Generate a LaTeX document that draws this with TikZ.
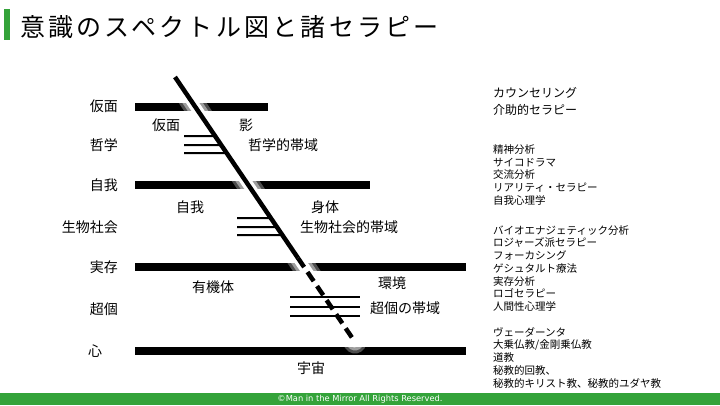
\documentclass[tikz,border=0pt]{standalone}
\usepackage{fontspec}
\setmainfont{Noto Sans CJK JP}
\newfontfamily\titlefont[LetterSpace=13]{Noto Sans CJK JP}
\newfontfamily\footfont{DejaVu Sans}
\usepackage{tikz}
\usetikzlibrary{calc}

\definecolor{slideGreen}{RGB}{52,163,58}

\begin{document}
\begin{tikzpicture}[
    x=1pt, y=-1pt,
    lbl/.style={font=\fontsize{14}{14}\selectfont, inner sep=0pt},
    lst/.style={font=\fontsize{10.5}{12.75}\selectfont, align=left, anchor=west, inner sep=0pt},
    bar/.style={line width=7.5pt},
    band/.style={line width=2pt},
    halo/.style={white, line cap=round},
    spine/.style={line width=4.5pt}
]
\useasboundingbox (0,0) rectangle (720,405);

% ==================== TITLE & FOOTER ====================
\fill[slideGreen] (4,9) rectangle (10,40);
\node[anchor=west, inner sep=0pt, font=\titlefont\fontsize{25}{25}\selectfont] (title) at (20,27) {意識のスペクトル図と諸セラピー};

\fill[slideGreen] (0,393) rectangle (720,405);
\node[text=white, inner sep=0pt, font=\footfont\fontsize{8.3}{8.3}\selectfont] (footer) at (360,399.5) {©Man in the Mirror All Rights Reserved.};

% ==================== LEVEL BARS ====================
\draw[bar] (135,107) -- (268,107);
\draw[bar] (135,185) -- (370,185);
\draw[bar] (135,267) -- (466,267);
\draw[bar] (135,351) -- (466,351);

% Diagonal end points
\coordinate (top) at (175,77);
\coordinate (end) at (355,342);
\coordinate (mid) at ($(top)!0.683!(end)$);

% Soft white glow round the diagonal
\draw[halo, line width=23pt, opacity=0.3] (top) -- (end);
\draw[halo, line width=17pt, opacity=0.45] (top) -- (end);
\draw[halo, line width=11pt] (top) -- (end);

% ==================== BANDS ====================
\draw[band] (184,136) -- ($(top)!{59/265}!(end)$);
\draw[band] (184,145) -- ($(top)!{68/265}!(end)$);
\draw[band] (184,153) -- ($(top)!{76/265}!(end)$);

\draw[band] (237,218) -- ($(top)!{141/265}!(end)$);
\draw[band] (237,227) -- ($(top)!{150/265}!(end)$);
\draw[band] (237,235) -- ($(top)!{158/265}!(end)$);

\draw[band] (290,297) -- (360,297);
\draw[band] (290,307) -- (360,307);
\draw[band] (290,316) -- (360,316);

% ==================== DIAGONAL ====================
\draw[spine] (top) -- (mid);
\draw[spine, dash pattern=on 11pt off 6pt] (mid) -- (end);

% ==================== LEFT LEVEL NAMES ====================
\node[lbl, anchor=east] (persona) at (118,106) {仮面};
\node[lbl, anchor=east] (philo) at (118,145) {哲学};
\node[lbl, anchor=east] (ego) at (118,185) {自我};
\node[lbl, anchor=east] (biosoc) at (118,227) {生物社会};
\node[lbl, anchor=east] (exist) at (118,267) {実存};
\node[lbl, anchor=east] (transp) at (118,309) {超個};
\node[lbl, anchor=west] (mind) at (88,351) {心};

% ==================== INNER LABELS ====================
\node[lbl] (maskL) at (166,125) {仮面};
\node[lbl] (shadow) at (246,125) {影};
\node[lbl, anchor=west] (philoBand) at (248,145) {哲学的帯域};
\node[lbl] (egoL) at (190,207) {自我};
\node[lbl] (body) at (325,207) {身体};
\node[lbl, anchor=west] (biosocBand) at (300,227) {生物社会的帯域};
\node[lbl] (organism) at (213,287) {有機体};
\node[lbl] (environ) at (392,283) {環境};
\node[lbl, anchor=west] (transpBand) at (370,308) {超個の帯域};
\node[lbl] (cosmos) at (311,368) {宇宙};

% ==================== THERAPIES (Right) ====================
\node[lst, font=\fontsize{12}{17}\selectfont] (thPersona) at (493,101.5) {カウンセリング\\介助的セラピー};
\node[lst] (thEgo) at (493,175) {精神分析\\サイコドラマ\\交流分析\\リアリティ・セラピー\\自我心理学};
\node[lst] (thExist) at (493,268.5) {バイオエナジェティック分析\\ロジャーズ派セラピー\\フォーカシング\\ゲシュタルト療法\\実存分析\\ロゴセラピー\\人間性心理学};
\node[lst] (thMind) at (493,357.5) {ヴェーダーンタ\\大乗仏教/金剛乗仏教\\道教\\秘教的回教、\\秘教的キリスト教、秘教的ユダヤ教};

\end{tikzpicture}
\end{document}
